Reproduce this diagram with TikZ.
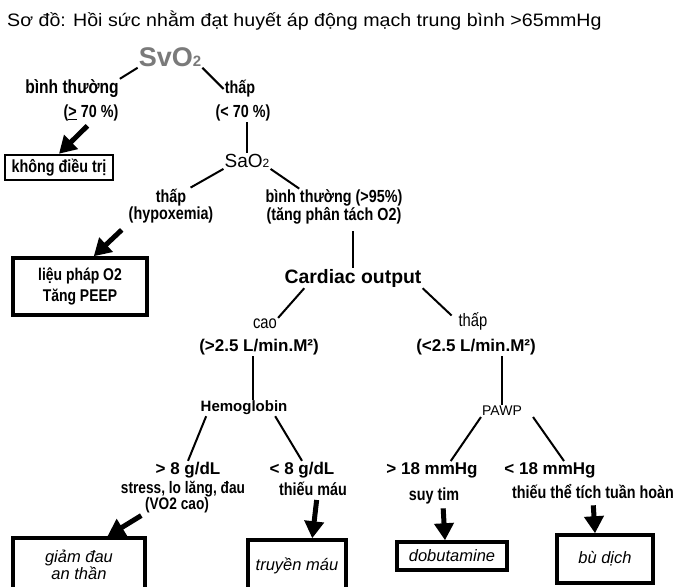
\documentclass[tikz,border=0pt]{standalone}
\usepackage{fontspec}
\setmainfont{Liberation Sans}
\newfontfamily\condfont[FakeStretch=0.82]{Liberation Sans}
\newfontfamily\widefont[FakeStretch=1.09]{Liberation Sans}
\usetikzlibrary{calc,arrows.meta}

\begin{document}
\begin{tikzpicture}[x=1pt,y=-1pt,
	lbl/.style={inner sep=1pt, font=\condfont\bfseries\fontsize{17.5}{19}\selectfont},
	txt/.style={inner sep=1pt, font=\condfont\fontsize{18}{20}\selectfont},
	big/.style={inner sep=1pt, font=\bfseries\fontsize{17}{19}\selectfont},
	ital/.style={font=\itshape\fontsize{16.5}{15}\selectfont},
	box/.style={draw, line width=3.5pt, inner sep=0pt, align=center},
	link/.style={line width=2pt},
	fat/.style={line width=5pt, -{Triangle[length=17pt,width=19pt]}}]
			%%%%% START %%%%%
			
			\useasboundingbox (0,0) rectangle (685,586);
			
			\node[anchor=west, inner sep=0pt, font=\widefont\fontsize{18}{20}\selectfont] (title) at (7,21) {Sơ đồ: Hồi sức nhằm đạt huyết áp động mạch trung bình >65mmHg};
			
			\node[inner sep=1pt, text=black!52, font=\bfseries\fontsize{27}{29}\selectfont] (svo2) at (170,57) {SvO{\fontsize{15}{15}\selectfont 2}};
			\node[lbl, font=\condfont\bfseries\fontsize{19}{20}\selectfont] (bt1) at (72,89) {bình thường};
			\node[lbl] (ge70) at (91,113) {(\underline{>} 70 \%)};
			\node[lbl] (thap1) at (240,89) {thấp};
			\node[lbl] (lt70) at (243,113) {(< 70 \%)};
			\node[box, line width=2.5pt, minimum width=108pt, minimum height=25pt, font=\condfont\bfseries\fontsize{17.5}{19}\selectfont] (kdt) at (59,167.5) {không điều trị};
			
			\node[inner sep=1pt, font=\fontsize{19}{21}\selectfont] (sao2) at (247,161) {SaO{\fontsize{12}{12}\selectfont 2}};
			\node[lbl, align=center, font=\condfont\bfseries\fontsize{17.5}{15}\selectfont] (hypo) at (171,206) {thấp\\(hypoxemia)};
			\node[lbl, align=center, font=\condfont\bfseries\fontsize{17.5}{15.5}\selectfont] (bt2) at (334,207) {bình thường (>95\%)\\(tăng phân tách O2)};
			\node[box, minimum width=134pt, minimum height=57pt, font=\condfont\bfseries\fontsize{17}{21}\selectfont] (lieu) at (80,286.5) {liệu pháp O2\\Tăng PEEP};
			
			\node[inner sep=1pt, font=\bfseries\fontsize{19.4}{21}\selectfont] (co) at (353,278) {Cardiac output};
			\node[txt] (cao) at (265,324) {cao};
			\node[big] (gt25) at (259,347) {(>2.5 L/min.M²)};
			\node[txt] (thap3) at (473,321) {thấp};
			\node[big] (lt25) at (476,347) {(<2.5 L/min.M²)};
			
			\node[inner sep=1pt, font=\bfseries\fontsize{15}{17}\selectfont] (hb) at (244,408) {Hemoglobin};
			\node[inner sep=1pt, font=\fontsize{14}{16}\selectfont] (pawp) at (502,411) {PAWP};
			
			\node[big] (gt8) at (188,470) {> 8 g/dL};
			\node[lbl, font=\condfont\bfseries\fontsize{16.7}{18}\selectfont] (stress) at (183,489) {stress, lo lăng, đau};
			\node[lbl, font=\condfont\bfseries\fontsize{16.7}{18}\selectfont] (vo2) at (177,505) {(VO2 cao)};
			\node[big] (lt8) at (302,470) {< 8 g/dL};
			\node[lbl] (tm) at (313,489) {thiếu máu};
			\node[big] (gt18) at (432,470) {> 18 mmHg};
			\node[lbl] (suy) at (434,496) {suy tim};
			\node[lbl] (ttt) at (593,492) {thiếu thể tích tuần hoàn};
			\node[big] (lt18) at (550,470) {< 18 mmHg};
			
			\node[box, ital, minimum width=132pt, minimum height=54pt] (giam) at (79,565) {giảm đau\\an thần};
			\node[box, ital, minimum width=98pt, minimum height=52pt] (truyen) at (297,566) {truyền máu};
			\node[box, ital, minimum width=110pt, minimum height=28pt] (dobu) at (452,556) {dobutamine};
			\node[box, ital, minimum width=96pt, minimum height=48pt] (bu) at (605,559) {bù dịch};
			
			% nhanh SvO2
			\draw[link] (svo2.south west) -- (bt1.north east);
			\draw[link] (svo2.south east) -- (thap1.west);
			\draw[link] (lt70.south -| sao2.north) -- (sao2.north);
			\draw[fat, shorten <=5pt] (ge70.south) -- (kdt.north);
			
			% nhanh SaO2
			\draw[link] (sao2.south west) -- ($(hypo.north)!0.45!(hypo.north east)$);
			\draw[link] (sao2.south east) -- ($(bt2.north)!0.5!(bt2.north west)$);
			\draw[fat, shorten <=8pt] (hypo.south west) -- ($(lieu.north)!0.2!(lieu.north east)$);
			\draw[link, shorten <=6pt] (bt2.south -| co.north) -- (co.north);
			
			% cung luong tim
			\draw[link] ($(co.south west)!0.15!(co.south east)$) -- (cao.north east);
			\draw[link, shorten >=8pt] (co.south east) -- (thap3.west);
			\draw[link] ([xshift=-6pt]gt25.south) -- ([xshift=-6pt]gt25.south |- hb.north);
			\draw[link] (lt25.south -| pawp.north) -- (pawp.north);
			
			\draw[link] ($(hb.south)!0.85!(hb.south west)$) -- (gt8.north);
			\draw[link] ($(hb.south)!0.7!(hb.south east)$) -- (lt8.north);
			\draw[link] (pawp.south west) -- ($(gt18.north)!0.4!(gt18.north east)$);
			\draw[link] ([xshift=10pt]pawp.south east) -- ($(lt18.north)!0.3!(lt18.north east)$);
			
			% dieu tri
			\draw[fat, shorten <=3pt] (vo2.south west) -- ($(giam.north)!0.42!(giam.north east)$);
			\draw[fat, shorten <=3pt] ([xshift=4pt]tm.south) -- ($(truyen.north)!0.3!(truyen.north east)$);
			\draw[fat, shorten <=3pt] ([xshift=9pt]suy.south) -- ([xshift=-7pt]dobu.north);
			\draw[fat, shorten <=5pt] (ttt.south) -- ([xshift=-10pt]bu.north);
			
			%%%%% END %%%%%
\end{tikzpicture}
\end{document}
